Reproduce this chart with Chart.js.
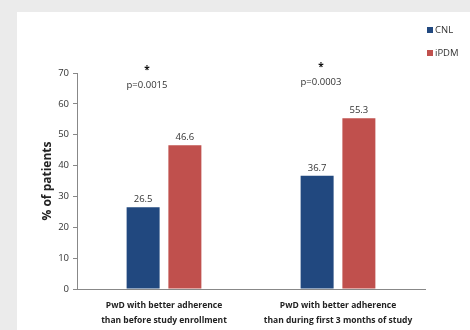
<!DOCTYPE html>
<html>
<head>
<meta charset="utf-8">
<script src="https://cdn.jsdelivr.net/npm/chart.js@4.4.0/dist/chart.umd.min.js"></script>
<style>
  body { margin: 0; background: #ebebeb; width: 470px; height: 330px; overflow: hidden; }
  #panel { position: absolute; left: 17px; top: 12px; width: 453px; height: 318px; background: #fff; }
</style>
</head>
<body>
<div id="panel"><canvas id="myChart" width="453" height="318"></canvas></div>
<script>
// chart data
const CATEGORIES = [
    ['PwD with better adherence', 'than before study enrollment'],
    ['PwD with better adherence', 'than during first 3 months of study']
];
const CNL_VALUES = [26.5, 36.7];
const IPDM_VALUES = [46.6, 55.3];
const P_VALUES = ['p=0.0015', 'p=0.0003'];
const Y_TICKS = [0, 10, 20, 30, 40, 50, 60, 70];

const FONT = '"Open Sans", "Noto Sans", sans-serif';

// value labels above bars, significance notes and the small legend
const extras = {
    id: 'extras',
    afterDatasetsDraw(chart) {
        const ctx = chart.ctx;
        ctx.save();
        ctx.fillStyle = '#333';
        ctx.font = '9.5px ' + FONT;
        ctx.textAlign = 'center';
        ctx.textBaseline = 'bottom';
        chart.data.datasets.forEach((ds, i) => {
            chart.getDatasetMeta(i).data.forEach((bar, j) => {
                ctx.fillText(ds.data[j].toFixed(1), bar.x, bar.y - 3);
            });
        });

        const x = chart.scales.x, y = chart.scales.y;
        P_VALUES.forEach((p, j) => {
            const cx = x.getPixelForValue(j) - 17;
            const top = y.getPixelForValue(70) - 3 - j * 3;
            ctx.font = 'bold 10px ' + FONT;
            ctx.textBaseline = 'middle';
            ctx.fillStyle = '#111';
            ctx.fillText('*', cx, top);
            ctx.font = '9.5px ' + FONT;
            ctx.fillStyle = '#333';
            ctx.fillText(p, cx, top + 15);
        });

        ctx.textAlign = 'left';
        chart.data.datasets.forEach((ds, i) => {
            const ly = 18 + i * 23;
            ctx.fillStyle = ds.backgroundColor;
            ctx.fillRect(410, ly - 3, 6, 6);
            ctx.fillStyle = '#333';
            ctx.font = '9.5px ' + FONT;
            ctx.fillText(ds.label, 418, ly);
        });
        ctx.restore();
    }
};

var ctx = document.getElementById('myChart');
const chart = new Chart(ctx, {
    type: 'bar',
    data: {
        labels: CATEGORIES,
        datasets: [
            { label: 'CNL', data: CNL_VALUES, backgroundColor: '#21487f' },
            { label: 'iPDM', data: IPDM_VALUES, backgroundColor: '#c0504d' }
        ]
    },
    options: {
        responsive: false,
        animation: false,
        layout: { padding: { left: 18, top: 61, right: 45, bottom: 0 } },
        datasets: { bar: { categoryPercentage: 0.48, barPercentage: 0.79 } },
        plugins: { legend: { display: false }, tooltip: { enabled: false } },
        scales: {
            x: {
                grid: { display: false },
                border: { color: '#888' },
                ticks: { color: '#222', font: { family: FONT, size: 8.5, weight: 'bold', lineHeight: 1.75 }, padding: 1, maxRotation: 0 },
                afterFit(scale) { scale.height = 41; }
            },
            y: {
                min: 0, max: 70,
                afterBuildTicks(scale) { scale.ticks = Y_TICKS.map(v => ({ value: v })); },
                grid: { drawOnChartArea: false, drawTicks: true, tickLength: 4, color: '#888' },
                border: { color: '#888' },
                ticks: { color: '#333', font: { family: FONT, size: 9.5 }, padding: 4 },
                title: { display: true, text: '% of patients', color: '#222', font: { family: FONT, size: 12, weight: 'bold' }, padding: { top: 5, bottom: 0 } },
                afterFit(scale) { scale.width = 42; }
            }
        }
    },
    plugins: [extras]
});
</script>
</body>
</html>
